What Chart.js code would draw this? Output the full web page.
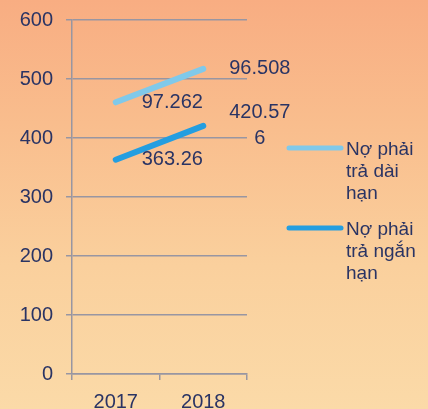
<!DOCTYPE html>
<html>
<head>
<meta charset="utf-8">
<script src="https://cdn.jsdelivr.net/npm/chart.js@4.4.1/dist/chart.umd.min.js"></script>
<style>
  html, body { margin: 0; padding: 0; overflow: hidden; }
  body { width: 428px; height: 409px;
    background: linear-gradient(to bottom, #f8ad82 0%, #f9bd8d 30%, #fad09d 65%, #fbdaa8 100%); }
  #wrap { position: relative; width: 428px; height: 409px; }
</style>
</head>
<body>
<div id="wrap"><canvas id="c"></canvas></div>
<script>
// ---- data ----
const categories = ['2017', '2018'];
const seriesNames = ['Nợ phải trả ngắn hạn', 'Nợ phải trả dài hạn'];
const shortTermDebt = [363.26, 420.576];
const longTermDebt = [97.262, 96.508];
const legendLines = [['Nợ phải', 'trả dài', 'hạn'], ['Nợ phải', 'trả ngắn', 'hạn']];
const yMin = 0, yMax = 600, yStep = 100;

const navy = '#2a3464';
const gridColor = '#9896a2';
const darkBlue = '#249ee0';
const lightBlue = '#80c9ea';
const fontFamily = '"Liberation Sans", Arial, sans-serif';

function wrapText(ctx, text, maxW) {
  const lines = [];
  let cur = '';
  for (const ch of text) {
    if (ctx.measureText(cur + ch).width > maxW && cur) { lines.push(cur); cur = ch; }
    else cur += ch;
  }
  if (cur) lines.push(cur);
  return lines;
}

const dataLabels = {
  id: 'dataLabels',
  afterDatasetsDraw(chart) {
    const ctx = chart.ctx;
    ctx.save();
    ctx.font = '20px ' + fontFamily;
    ctx.fillStyle = navy;
    ctx.textAlign = 'center';
    ctx.textBaseline = 'middle';
    chart.data.datasets.forEach((ds, di) => {
      const meta = chart.getDatasetMeta(di);
      meta.data.forEach((pt, i) => {
        const lines = wrapText(ctx, String(ds.data[i]), 66);
        const maxW = Math.max(...lines.map(l => ctx.measureText(l).width));
        const cx = pt.x + 26 + maxW / 2;
        const lh = 26;
        const y0 = pt.y - (lines.length - 1) * lh / 2;
        lines.forEach((l, k) => ctx.fillText(l, cx, y0 + k * lh));
      });
    });
    ctx.restore();
  }
};

const customLegend = {
  id: 'customLegend',
  afterDraw(chart) {
    const ctx = chart.ctx;
    ctx.save();
    const items = [
      { color: lightBlue, lines: legendLines[0], y: 148 },
      { color: darkBlue, lines: legendLines[1], y: 228 }
    ];
    items.forEach(it => {
      ctx.strokeStyle = it.color;
      ctx.lineWidth = 5;
      ctx.lineCap = 'round';
      ctx.beginPath();
      ctx.moveTo(289, it.y);
      ctx.lineTo(341, it.y);
      ctx.stroke();
      ctx.font = '19px ' + fontFamily;
      ctx.fillStyle = navy;
      ctx.textAlign = 'left';
      ctx.textBaseline = 'middle';
      it.lines.forEach((l, k) => ctx.fillText(l, 346, it.y + 2 + k * 22));
    });
    ctx.restore();
  }
};

new Chart(document.getElementById('c'), {
  type: 'line',
  data: {
    labels: categories,
    datasets: [
      { label: seriesNames[0], data: shortTermDebt, borderColor: darkBlue, backgroundColor: darkBlue,
        borderWidth: 6, borderCapStyle: 'round', pointRadius: 0, fill: false, tension: 0 },
      { label: seriesNames[1], data: longTermDebt, borderColor: lightBlue, backgroundColor: lightBlue,
        borderWidth: 6, borderCapStyle: 'round', pointRadius: 0, fill: false, tension: 0 }
    ]
  },
  options: {
    responsive: true,
    maintainAspectRatio: false,
    animation: false,
    layout: { padding: { top: 20, right: 181, left: 0, bottom: 0 } },
    plugins: { legend: { display: false }, tooltip: { enabled: false } },
    scales: {
      x: {
        offset: true,
        grid: { display: true, drawOnChartArea: false, drawTicks: true, tickLength: 6, color: gridColor, offset: true, lineWidth: 1.5 },
        border: { display: true, color: gridColor, width: 1.5 },
        ticks: { color: navy, font: { size: 20, family: fontFamily }, padding: 10, maxRotation: 0 },
        afterFit(s) { s.height = 35; s.paddingLeft = 0; s.paddingRight = 0; }
      },
      y: {
        stacked: true,
        min: yMin, max: yMax,
        grid: { color: gridColor, tickLength: 6, lineWidth: 1.5 },
        border: { display: true, color: gridColor, width: 1.5 },
        ticks: { stepSize: yStep, color: navy, font: { size: 20, family: fontFamily }, padding: 13 },
        afterFit(s) { s.width = 72; s.paddingTop = 0; s.paddingBottom = 0; }
      }
    }
  },
  plugins: [dataLabels, customLegend]
});
</script>
</body>
</html>
